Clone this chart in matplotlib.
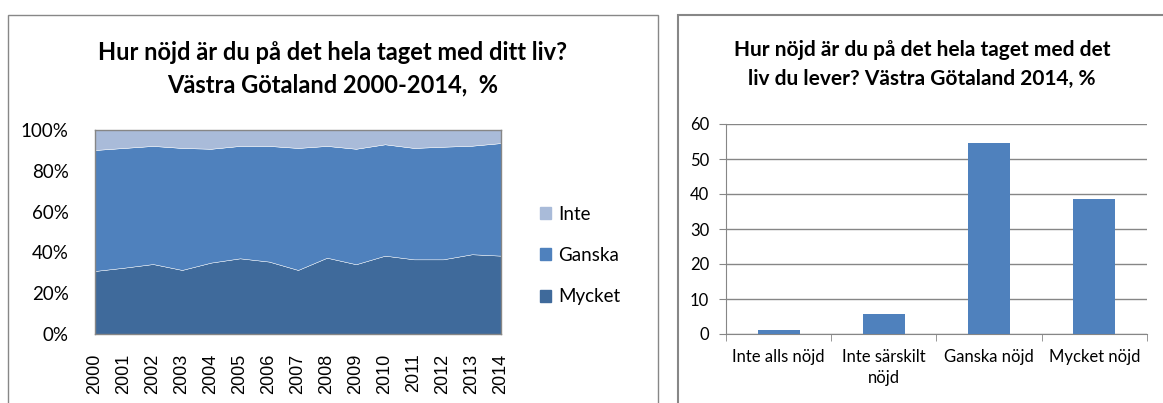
import matplotlib.pyplot as plt
from matplotlib.patches import Rectangle, Patch

years = list(range(2000, 2015))
mycket = [30.9, 32.5, 34.3, 31.4, 35.0, 37.1, 35.5, 31.4, 37.4, 34.2, 38.4, 36.6, 36.6, 39.1, 38.4]
top = [90.2, 91.2, 92.2, 91.2, 90.8, 92.2, 92.2, 91.2, 92.2, 90.8, 93.0, 91.2, 91.8, 92.3, 93.6]
ganska = [t - m for t, m in zip(top, mycket)]
inte = [100 - t for t in top]

categories = ['Inte alls nöjd', 'Inte särskilt\nnöjd', 'Ganska nöjd', 'Mycket nöjd']
values_2014 = [1.2, 5.7, 54.5, 38.7]

c_mycket = '#3F6A9B'
c_ganska = '#4F81BD'
c_inte = '#A9BBD9'
grid_c = '#868686'

W, H = 1163, 403
fig = plt.figure(figsize=(W / 100, H / 100), dpi=100)


def box(x0, y0, x1, y1):
    return [x0 / W, 1 - y1 / H, (x1 - x0) / W, (y1 - y0) / H]


# panel frames
fig.patches.append(Rectangle((8 / W, -0.05), 650 / W, 1 - 15 / H + 0.05, transform=fig.transFigure,
                             fill=False, edgecolor='#878787', lw=1))
fig.patches.append(Rectangle((678 / W, -0.05), 490 / W, 1 - 15 / H + 0.05, transform=fig.transFigure,
                             fill=False, edgecolor='#878787', lw=1.5))

# left chart
ax1 = fig.add_axes(box(95, 130, 501, 334))
ax1.stackplot(years, mycket, ganska, inte, colors=[c_mycket, c_ganska, c_inte],
              edgecolor='white', linewidth=0.3)
ax1.set_xlim(2000, 2014)
ax1.set_ylim(0, 100)
ax1.set_yticks(range(0, 101, 20))
ax1.set_yticklabels([f'{v}%' for v in range(0, 101, 20)], family='Lato', fontsize=13.5)
ax1.set_xticks(years)
ax1.set_xticklabels([str(y) for y in years], rotation=90, family='Liberation Sans', fontsize=13)
ax1.tick_params(axis='y', length=0, pad=19)
ax1.tick_params(axis='x', length=0, pad=14)
for s in ax1.spines.values():
    s.set_color(grid_c)
    s.set_linewidth(1)
handles = [Patch(color=c_inte), Patch(color=c_ganska), Patch(color=c_mycket)]
leg = ax1.legend(handles, ['Inte', 'Ganska', 'Mycket'], loc='center left',
                 bbox_to_anchor=(1.055, 0.385), frameon=False, handlelength=0.6,
                 handleheight=0.6, handletextpad=0.35, labelspacing=1.3,
                 prop={'family': 'Lato', 'size': 13.5})

fig.text(333 / W, 1 - 52 / H, 'Hur nöjd är du på det hela taget med ditt liv?', ha='center', va='center',
         fontsize=17, fontweight='bold', family='Lato')
fig.text(333 / W, 1 - 85 / H, 'Västra Götaland 2000-2014,  %', ha='center', va='center',
         fontsize=17, fontweight='bold', family='Lato')

# right chart
ax2 = fig.add_axes(box(726, 124, 1147, 334))
x = range(len(categories))
ax2.bar(x, values_2014, width=0.4, color=c_ganska, zorder=3)
ax2.set_xlim(-0.5, 3.5)
ax2.set_ylim(0, 60)
ax2.set_yticks(range(0, 61, 10))
ax2.yaxis.grid(True, color=grid_c, lw=1, zorder=0)
ax2.set_xticks(x)
ax2.set_xticklabels(categories, family='Lato', fontsize=12, va='top', linespacing=1.35)
ax2.set_xticks([-0.5, 0.5, 1.5, 2.5, 3.5], minor=True)
ax2.tick_params(axis='x', which='major', length=0, pad=11)
ax2.tick_params(axis='x', which='minor', length=5, color=grid_c)
ax2.tick_params(axis='y', length=5, color=grid_c, pad=7)
for lab in ax2.get_yticklabels():
    lab.set_family('Lato')
    lab.set_fontsize(12)
for side in ['top', 'right']:
    ax2.spines[side].set_visible(False)
ax2.spines['left'].set_color(grid_c)
ax2.spines['bottom'].set_color(grid_c)

fig.text(922 / W, 1 - 50 / H, 'Hur nöjd är du på det hela taget med det', ha='center', va='center',
         fontsize=15, fontweight='bold', family='Lato')
fig.text(922 / W, 1 - 79 / H, 'liv du lever? Västra Götaland 2014, %', ha='center', va='center',
         fontsize=15, fontweight='bold', family='Lato')

fig.savefig('out.png', dpi=100)
